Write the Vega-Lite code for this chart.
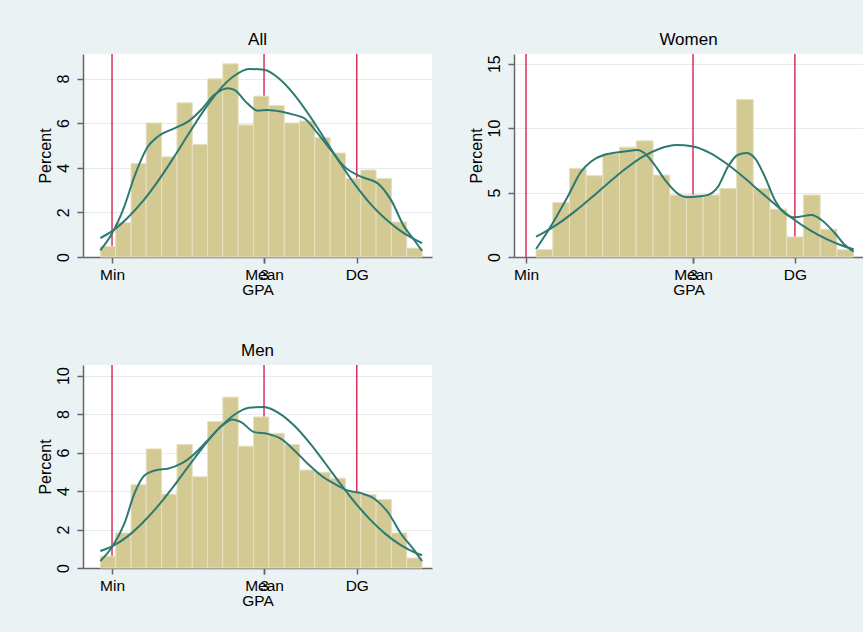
{
  "$schema": "https://vega.github.io/schema/vega-lite/v6.json",
  "background": "#eaf2f3",
  "padding": {"left": 37, "top": 31, "right": 0, "bottom": 26},
  "config": {
    "font": "Liberation Sans",
    "view": {"fill": "white", "stroke": null},
    "axis": {
      "domainColor": "#666666",
      "domainWidth": 1.5,
      "tickColor": "#666666",
      "tickWidth": 1.5,
      "tickSize": 6,
      "labelColor": "#000000",
      "titleColor": "#000000",
      "labelFont": "Liberation Sans",
      "titleFont": "Liberation Sans",
      "labelFontSize": 15.5,
      "titleFontSize": 15.5,
      "titleFontWeight": "normal",
      "gridColor": "#e3ebf0",
      "gridWidth": 1.2
    },
    "title": {"font": "Liberation Sans", "fontSize": 17, "fontWeight": "normal", "color": "#000000", "offset": 4, "frame": "group", "anchor": "middle"}
  },
  "datasets": {
    "refs": [
      {"panel": "All", "gpa": 2.0, "label": "Min"},
      {"panel": "All", "gpa": 3.0, "label": "Mean"},
      {"panel": "All", "gpa": 3.61, "label": "DG"},
      {"panel": "Women", "gpa": 2.0, "label": "Min"},
      {"panel": "Women", "gpa": 3.0, "label": "Mean"},
      {"panel": "Women", "gpa": 3.61, "label": "DG"},
      {"panel": "Men", "gpa": 2.0, "label": "Min"},
      {"panel": "Men", "gpa": 3.0, "label": "Mean"},
      {"panel": "Men", "gpa": 3.61, "label": "DG"}
    ],
    "bars": [
      {"panel": "All", "x0": 1.923, "x1": 2.024, "pct": 0.48},
      {"panel": "All", "x0": 2.024, "x1": 2.125, "pct": 1.54},
      {"panel": "All", "x0": 2.125, "x1": 2.225, "pct": 4.19},
      {"panel": "All", "x0": 2.225, "x1": 2.326, "pct": 6.01},
      {"panel": "All", "x0": 2.326, "x1": 2.427, "pct": 4.49},
      {"panel": "All", "x0": 2.427, "x1": 2.528, "pct": 6.91},
      {"panel": "All", "x0": 2.528, "x1": 2.629, "pct": 5.05},
      {"panel": "All", "x0": 2.629, "x1": 2.729, "pct": 7.99},
      {"panel": "All", "x0": 2.729, "x1": 2.830, "pct": 8.66},
      {"panel": "All", "x0": 2.830, "x1": 2.931, "pct": 5.92},
      {"panel": "All", "x0": 2.931, "x1": 3.032, "pct": 7.21},
      {"panel": "All", "x0": 3.032, "x1": 3.133, "pct": 6.79},
      {"panel": "All", "x0": 3.133, "x1": 3.233, "pct": 6.01},
      {"panel": "All", "x0": 3.233, "x1": 3.334, "pct": 6.10},
      {"panel": "All", "x0": 3.334, "x1": 3.435, "pct": 5.35},
      {"panel": "All", "x0": 3.435, "x1": 3.536, "pct": 4.66},
      {"panel": "All", "x0": 3.536, "x1": 3.637, "pct": 3.52},
      {"panel": "All", "x0": 3.637, "x1": 3.737, "pct": 3.90},
      {"panel": "All", "x0": 3.737, "x1": 3.838, "pct": 3.52},
      {"panel": "All", "x0": 3.838, "x1": 3.939, "pct": 1.57},
      {"panel": "All", "x0": 3.939, "x1": 4.040, "pct": 0.40},
      {"panel": "Women", "x0": 2.060, "x1": 2.160, "pct": 0.57},
      {"panel": "Women", "x0": 2.160, "x1": 2.260, "pct": 4.23},
      {"panel": "Women", "x0": 2.260, "x1": 2.360, "pct": 6.88},
      {"panel": "Women", "x0": 2.360, "x1": 2.460, "pct": 6.31},
      {"panel": "Women", "x0": 2.460, "x1": 2.560, "pct": 8.00},
      {"panel": "Women", "x0": 2.560, "x1": 2.660, "pct": 8.52},
      {"panel": "Women", "x0": 2.660, "x1": 2.761, "pct": 9.01},
      {"panel": "Women", "x0": 2.761, "x1": 2.861, "pct": 6.36},
      {"panel": "Women", "x0": 2.861, "x1": 2.961, "pct": 4.81},
      {"panel": "Women", "x0": 2.961, "x1": 3.061, "pct": 4.81},
      {"panel": "Women", "x0": 3.061, "x1": 3.161, "pct": 4.81},
      {"panel": "Women", "x0": 3.161, "x1": 3.261, "pct": 5.32},
      {"panel": "Women", "x0": 3.261, "x1": 3.361, "pct": 12.21},
      {"panel": "Women", "x0": 3.361, "x1": 3.461, "pct": 5.32},
      {"panel": "Women", "x0": 3.461, "x1": 3.561, "pct": 3.71},
      {"panel": "Women", "x0": 3.561, "x1": 3.661, "pct": 1.56},
      {"panel": "Women", "x0": 3.661, "x1": 3.762, "pct": 4.81},
      {"panel": "Women", "x0": 3.762, "x1": 3.862, "pct": 2.16},
      {"panel": "Women", "x0": 3.862, "x1": 3.962, "pct": 0.57},
      {"panel": "Men", "x0": 1.923, "x1": 2.024, "pct": 0.62},
      {"panel": "Men", "x0": 2.024, "x1": 2.125, "pct": 1.82},
      {"panel": "Men", "x0": 2.125, "x1": 2.225, "pct": 4.33},
      {"panel": "Men", "x0": 2.225, "x1": 2.326, "pct": 6.19},
      {"panel": "Men", "x0": 2.326, "x1": 2.427, "pct": 3.84},
      {"panel": "Men", "x0": 2.427, "x1": 2.528, "pct": 6.42},
      {"panel": "Men", "x0": 2.528, "x1": 2.629, "pct": 4.74},
      {"panel": "Men", "x0": 2.629, "x1": 2.729, "pct": 7.61},
      {"panel": "Men", "x0": 2.729, "x1": 2.830, "pct": 8.88},
      {"panel": "Men", "x0": 2.830, "x1": 2.931, "pct": 6.33},
      {"panel": "Men", "x0": 2.931, "x1": 3.032, "pct": 7.85},
      {"panel": "Men", "x0": 3.032, "x1": 3.133, "pct": 7.00},
      {"panel": "Men", "x0": 3.133, "x1": 3.233, "pct": 6.42},
      {"panel": "Men", "x0": 3.233, "x1": 3.334, "pct": 5.09},
      {"panel": "Men", "x0": 3.334, "x1": 3.435, "pct": 4.98},
      {"panel": "Men", "x0": 3.435, "x1": 3.536, "pct": 4.67},
      {"panel": "Men", "x0": 3.536, "x1": 3.637, "pct": 3.94},
      {"panel": "Men", "x0": 3.637, "x1": 3.737, "pct": 3.82},
      {"panel": "Men", "x0": 3.737, "x1": 3.838, "pct": 3.56},
      {"panel": "Men", "x0": 3.838, "x1": 3.939, "pct": 1.82},
      {"panel": "Men", "x0": 3.939, "x1": 4.040, "pct": 0.52}
    ],
    "curves": [
      {"panel": "All", "curve": "kde", "gpa": 1.923, "pct": 0.30},
      {"panel": "All", "curve": "kde", "gpa": 2.0, "pct": 1.05},
      {"panel": "All", "curve": "kde", "gpa": 2.08, "pct": 2.25},
      {"panel": "All", "curve": "kde", "gpa": 2.147, "pct": 3.6},
      {"panel": "All", "curve": "kde", "gpa": 2.235, "pct": 4.94},
      {"panel": "All", "curve": "kde", "gpa": 2.30, "pct": 5.39},
      {"panel": "All", "curve": "kde", "gpa": 2.41, "pct": 5.77},
      {"panel": "All", "curve": "kde", "gpa": 2.50, "pct": 6.07},
      {"panel": "All", "curve": "kde", "gpa": 2.585, "pct": 6.59},
      {"panel": "All", "curve": "kde", "gpa": 2.673, "pct": 7.27},
      {"panel": "All", "curve": "kde", "gpa": 2.76, "pct": 7.57},
      {"panel": "All", "curve": "kde", "gpa": 2.805, "pct": 7.49},
      {"panel": "All", "curve": "kde", "gpa": 2.89, "pct": 6.89},
      {"panel": "All", "curve": "kde", "gpa": 2.958, "pct": 6.56},
      {"panel": "All", "curve": "kde", "gpa": 3.024, "pct": 6.59},
      {"panel": "All", "curve": "kde", "gpa": 3.11, "pct": 6.52},
      {"panel": "All", "curve": "kde", "gpa": 3.2, "pct": 6.37},
      {"panel": "All", "curve": "kde", "gpa": 3.265, "pct": 6.22},
      {"panel": "All", "curve": "kde", "gpa": 3.353, "pct": 5.54},
      {"panel": "All", "curve": "kde", "gpa": 3.44, "pct": 4.79},
      {"panel": "All", "curve": "kde", "gpa": 3.53, "pct": 4.04},
      {"panel": "All", "curve": "kde", "gpa": 3.638, "pct": 3.6},
      {"panel": "All", "curve": "kde", "gpa": 3.748, "pct": 3.30},
      {"panel": "All", "curve": "kde", "gpa": 3.836, "pct": 2.55},
      {"panel": "All", "curve": "kde", "gpa": 3.923, "pct": 1.35},
      {"panel": "All", "curve": "kde", "gpa": 3.989, "pct": 0.75},
      {"panel": "All", "curve": "kde", "gpa": 4.04, "pct": 0.27},
      {"panel": "All", "curve": "normal", "gpa": 1.923, "pct": 0.85},
      {"panel": "All", "curve": "normal", "gpa": 2.0, "pct": 1.16},
      {"panel": "All", "curve": "normal", "gpa": 2.1, "pct": 1.74},
      {"panel": "All", "curve": "normal", "gpa": 2.2, "pct": 2.48},
      {"panel": "All", "curve": "normal", "gpa": 2.3, "pct": 3.38},
      {"panel": "All", "curve": "normal", "gpa": 2.4, "pct": 4.40},
      {"panel": "All", "curve": "normal", "gpa": 2.5, "pct": 5.48},
      {"panel": "All", "curve": "normal", "gpa": 2.6, "pct": 6.53},
      {"panel": "All", "curve": "normal", "gpa": 2.7, "pct": 7.44},
      {"panel": "All", "curve": "normal", "gpa": 2.8, "pct": 8.10},
      {"panel": "All", "curve": "normal", "gpa": 2.9, "pct": 8.43},
      {"panel": "All", "curve": "normal", "gpa": 3.0, "pct": 8.39},
      {"panel": "All", "curve": "normal", "gpa": 3.1, "pct": 7.99},
      {"panel": "All", "curve": "normal", "gpa": 3.2, "pct": 7.27},
      {"panel": "All", "curve": "normal", "gpa": 3.3, "pct": 6.33},
      {"panel": "All", "curve": "normal", "gpa": 3.4, "pct": 5.28},
      {"panel": "All", "curve": "normal", "gpa": 3.5, "pct": 4.22},
      {"panel": "All", "curve": "normal", "gpa": 3.6, "pct": 3.23},
      {"panel": "All", "curve": "normal", "gpa": 3.7, "pct": 2.38},
      {"panel": "All", "curve": "normal", "gpa": 3.8, "pct": 1.70},
      {"panel": "All", "curve": "normal", "gpa": 3.9, "pct": 1.16},
      {"panel": "All", "curve": "normal", "gpa": 4.0, "pct": 0.76},
      {"panel": "All", "curve": "normal", "gpa": 4.04, "pct": 0.62},
      {"panel": "Women", "curve": "kde", "gpa": 2.06, "pct": 0.62},
      {"panel": "Women", "curve": "kde", "gpa": 2.147, "pct": 2.35},
      {"panel": "Women", "curve": "kde", "gpa": 2.25, "pct": 4.69},
      {"panel": "Women", "curve": "kde", "gpa": 2.33, "pct": 6.63},
      {"panel": "Women", "curve": "kde", "gpa": 2.39, "pct": 7.41},
      {"panel": "Women", "curve": "kde", "gpa": 2.47, "pct": 7.93},
      {"panel": "Women", "curve": "kde", "gpa": 2.59, "pct": 8.18},
      {"panel": "Women", "curve": "kde", "gpa": 2.67, "pct": 8.31},
      {"panel": "Women", "curve": "kde", "gpa": 2.71, "pct": 8.05},
      {"panel": "Women", "curve": "kde", "gpa": 2.77, "pct": 7.15},
      {"panel": "Women", "curve": "kde", "gpa": 2.84, "pct": 5.85},
      {"panel": "Women", "curve": "kde", "gpa": 2.92, "pct": 4.82},
      {"panel": "Women", "curve": "kde", "gpa": 2.965, "pct": 4.64},
      {"panel": "Women", "curve": "kde", "gpa": 3.03, "pct": 4.70},
      {"panel": "Women", "curve": "kde", "gpa": 3.09, "pct": 4.82},
      {"panel": "Women", "curve": "kde", "gpa": 3.15, "pct": 5.46},
      {"panel": "Women", "curve": "kde", "gpa": 3.21, "pct": 7.02},
      {"panel": "Women", "curve": "kde", "gpa": 3.27, "pct": 7.93},
      {"panel": "Women", "curve": "kde", "gpa": 3.32, "pct": 8.06},
      {"panel": "Women", "curve": "kde", "gpa": 3.37, "pct": 7.67},
      {"panel": "Women", "curve": "kde", "gpa": 3.43, "pct": 6.24},
      {"panel": "Women", "curve": "kde", "gpa": 3.49, "pct": 4.43},
      {"panel": "Women", "curve": "kde", "gpa": 3.55, "pct": 3.40},
      {"panel": "Women", "curve": "kde", "gpa": 3.61, "pct": 3.08},
      {"panel": "Women", "curve": "kde", "gpa": 3.71, "pct": 3.26},
      {"panel": "Women", "curve": "kde", "gpa": 3.77, "pct": 2.87},
      {"panel": "Women", "curve": "kde", "gpa": 3.85, "pct": 1.84},
      {"panel": "Women", "curve": "kde", "gpa": 3.91, "pct": 0.93},
      {"panel": "Women", "curve": "kde", "gpa": 3.962, "pct": 0.41},
      {"panel": "Women", "curve": "normal", "gpa": 2.06, "pct": 1.58},
      {"panel": "Women", "curve": "normal", "gpa": 2.1, "pct": 1.85},
      {"panel": "Women", "curve": "normal", "gpa": 2.2, "pct": 2.65},
      {"panel": "Women", "curve": "normal", "gpa": 2.3, "pct": 3.62},
      {"panel": "Women", "curve": "normal", "gpa": 2.4, "pct": 4.70},
      {"panel": "Women", "curve": "normal", "gpa": 2.5, "pct": 5.82},
      {"panel": "Women", "curve": "normal", "gpa": 2.6, "pct": 6.88},
      {"panel": "Women", "curve": "normal", "gpa": 2.7, "pct": 7.78},
      {"panel": "Women", "curve": "normal", "gpa": 2.8, "pct": 8.40},
      {"panel": "Women", "curve": "normal", "gpa": 2.9, "pct": 8.68},
      {"panel": "Women", "curve": "normal", "gpa": 3.0, "pct": 8.57},
      {"panel": "Women", "curve": "normal", "gpa": 3.1, "pct": 8.08},
      {"panel": "Women", "curve": "normal", "gpa": 3.2, "pct": 7.25},
      {"panel": "Women", "curve": "normal", "gpa": 3.3, "pct": 6.22},
      {"panel": "Women", "curve": "normal", "gpa": 3.4, "pct": 5.10},
      {"panel": "Women", "curve": "normal", "gpa": 3.5, "pct": 3.98},
      {"panel": "Women", "curve": "normal", "gpa": 3.6, "pct": 2.95},
      {"panel": "Women", "curve": "normal", "gpa": 3.7, "pct": 2.08},
      {"panel": "Women", "curve": "normal", "gpa": 3.8, "pct": 1.38},
      {"panel": "Women", "curve": "normal", "gpa": 3.9, "pct": 0.85},
      {"panel": "Women", "curve": "normal", "gpa": 3.962, "pct": 0.60},
      {"panel": "Men", "curve": "kde", "gpa": 1.923, "pct": 0.36},
      {"panel": "Men", "curve": "kde", "gpa": 2.0, "pct": 1.09},
      {"panel": "Men", "curve": "kde", "gpa": 2.081, "pct": 2.30},
      {"panel": "Men", "curve": "kde", "gpa": 2.147, "pct": 3.86},
      {"panel": "Men", "curve": "kde", "gpa": 2.213, "pct": 4.81},
      {"panel": "Men", "curve": "kde", "gpa": 2.30, "pct": 5.10},
      {"panel": "Men", "curve": "kde", "gpa": 2.366, "pct": 5.16},
      {"panel": "Men", "curve": "kde", "gpa": 2.454, "pct": 5.42},
      {"panel": "Men", "curve": "kde", "gpa": 2.542, "pct": 5.93},
      {"panel": "Men", "curve": "kde", "gpa": 2.629, "pct": 6.63},
      {"panel": "Men", "curve": "kde", "gpa": 2.717, "pct": 7.35},
      {"panel": "Men", "curve": "kde", "gpa": 2.794, "pct": 7.72},
      {"panel": "Men", "curve": "kde", "gpa": 2.849, "pct": 7.58},
      {"panel": "Men", "curve": "kde", "gpa": 2.936, "pct": 7.06},
      {"panel": "Men", "curve": "kde", "gpa": 3.024, "pct": 6.97},
      {"panel": "Men", "curve": "kde", "gpa": 3.112, "pct": 6.71},
      {"panel": "Men", "curve": "kde", "gpa": 3.20, "pct": 6.11},
      {"panel": "Men", "curve": "kde", "gpa": 3.287, "pct": 5.42},
      {"panel": "Men", "curve": "kde", "gpa": 3.375, "pct": 4.81},
      {"panel": "Men", "curve": "kde", "gpa": 3.463, "pct": 4.38},
      {"panel": "Men", "curve": "kde", "gpa": 3.55, "pct": 4.03},
      {"panel": "Men", "curve": "kde", "gpa": 3.638, "pct": 3.89},
      {"panel": "Men", "curve": "kde", "gpa": 3.726, "pct": 3.60},
      {"panel": "Men", "curve": "kde", "gpa": 3.814, "pct": 2.91},
      {"panel": "Men", "curve": "kde", "gpa": 3.901, "pct": 1.78},
      {"panel": "Men", "curve": "kde", "gpa": 3.989, "pct": 0.92},
      {"panel": "Men", "curve": "kde", "gpa": 4.039, "pct": 0.36},
      {"panel": "Men", "curve": "normal", "gpa": 1.923, "pct": 0.88},
      {"panel": "Men", "curve": "normal", "gpa": 2.0, "pct": 1.12},
      {"panel": "Men", "curve": "normal", "gpa": 2.1, "pct": 1.63},
      {"panel": "Men", "curve": "normal", "gpa": 2.2, "pct": 2.34},
      {"panel": "Men", "curve": "normal", "gpa": 2.3, "pct": 3.20},
      {"panel": "Men", "curve": "normal", "gpa": 2.4, "pct": 4.19},
      {"panel": "Men", "curve": "normal", "gpa": 2.5, "pct": 5.26},
      {"panel": "Men", "curve": "normal", "gpa": 2.6, "pct": 6.30},
      {"panel": "Men", "curve": "normal", "gpa": 2.7, "pct": 7.23},
      {"panel": "Men", "curve": "normal", "gpa": 2.8, "pct": 7.94},
      {"panel": "Men", "curve": "normal", "gpa": 2.9, "pct": 8.33},
      {"panel": "Men", "curve": "normal", "gpa": 3.0, "pct": 8.37},
      {"panel": "Men", "curve": "normal", "gpa": 3.1, "pct": 8.04},
      {"panel": "Men", "curve": "normal", "gpa": 3.2, "pct": 7.39},
      {"panel": "Men", "curve": "normal", "gpa": 3.3, "pct": 6.50},
      {"panel": "Men", "curve": "normal", "gpa": 3.4, "pct": 5.47},
      {"panel": "Men", "curve": "normal", "gpa": 3.5, "pct": 4.40},
      {"panel": "Men", "curve": "normal", "gpa": 3.6, "pct": 3.39},
      {"panel": "Men", "curve": "normal", "gpa": 3.7, "pct": 2.50},
      {"panel": "Men", "curve": "normal", "gpa": 3.8, "pct": 1.76},
      {"panel": "Men", "curve": "normal", "gpa": 3.9, "pct": 1.19},
      {"panel": "Men", "curve": "normal", "gpa": 4.0, "pct": 0.78},
      {"panel": "Men", "curve": "normal", "gpa": 4.04, "pct": 0.66}
    ]
  },
  "columns": 2,
  "spacing": {"row": 108, "column": 82},
  "bounds": "flush",
  "concat": [
    {
      "width": 349, "height": 203,
      "title": {"text": "All"},
      "layer": [
        {
          "data": {"name": "refs"},
          "transform": [{"filter": "datum.panel == 'All'"}],
          "mark": {"type": "rule", "color": "#d7325a", "strokeWidth": 1.5},
          "encoding": {
            "x": {"field": "gpa", "type": "quantitative",
              "scale": {"domain": [1.809, 4.105], "nice": false, "zero": false},
              "axis": {"title": "GPA", "values": [2, 3, 3.0001, 3.61], "labelExpr": "datum.value == 2 ? 'Min' : datum.value == 3 ? '3' : datum.value < 3.5 ? 'Mean' : 'DG'", "labelOverlap": false, "labelFlush": false, "grid": false, "labelPadding": 4, "titlePadding": 0}}
          }
        },
        {
          "data": {"name": "bars"},
          "transform": [{"filter": "datum.panel == 'All'"}],
          "mark": {"type": "rect", "fill": "#d3c993", "stroke": "#e6e1c3", "strokeWidth": 1},
          "encoding": {
            "x": {"field": "x0", "type": "quantitative"},
            "x2": {"field": "x1"},
            "y": {"field": "pct", "type": "quantitative",
              "scale": {"domain": [0, 9.1], "nice": false},
              "axis": {"title": "Percent", "values": [0, 2, 4, 6, 8], "labelAngle": -90, "labelAlign": "center", "labelBaseline": "bottom", "labelFontSize": 16, "titleFontSize": 16, "grid": true, "labelPadding": 6, "titlePadding": 2}},
            "y2": {"datum": 0}
          }
        },
        {
          "data": {"name": "curves"},
          "transform": [{"filter": "datum.panel == 'All'"}],
          "mark": {"type": "line", "color": "#2d7a72", "strokeWidth": 2, "interpolate": "monotone"},
          "encoding": {
            "x": {"field": "gpa", "type": "quantitative"},
            "y": {"field": "pct", "type": "quantitative"},
            "detail": {"field": "curve"}
          }
        }
      ]
    },
    {
      "width": 349, "height": 203,
      "title": {"text": "Women"},
      "layer": [
        {
          "data": {"name": "refs"},
          "transform": [{"filter": "datum.panel == 'Women'"}],
          "mark": {"type": "rule", "color": "#d7325a", "strokeWidth": 1.5},
          "encoding": {
            "x": {"field": "gpa", "type": "quantitative",
              "scale": {"domain": [1.928, 4.018], "nice": false, "zero": false},
              "axis": {"title": "GPA", "values": [2, 3, 3.0001, 3.61], "labelExpr": "datum.value == 2 ? 'Min' : datum.value == 3 ? '3' : datum.value < 3.5 ? 'Mean' : 'DG'", "labelOverlap": false, "labelFlush": false, "grid": false, "labelPadding": 4, "titlePadding": 0}}
          }
        },
        {
          "data": {"name": "bars"},
          "transform": [{"filter": "datum.panel == 'Women'"}],
          "mark": {"type": "rect", "fill": "#d3c993", "stroke": "#e6e1c3", "strokeWidth": 1},
          "encoding": {
            "x": {"field": "x0", "type": "quantitative"},
            "x2": {"field": "x1"},
            "y": {"field": "pct", "type": "quantitative",
              "scale": {"domain": [0, 15.75], "nice": false},
              "axis": {"title": "Percent", "values": [0, 5, 10, 15], "labelAngle": -90, "labelAlign": "center", "labelBaseline": "bottom", "labelFontSize": 16, "titleFontSize": 16, "grid": true, "labelPadding": 6, "titlePadding": 2}},
            "y2": {"datum": 0}
          }
        },
        {
          "data": {"name": "curves"},
          "transform": [{"filter": "datum.panel == 'Women'"}],
          "mark": {"type": "line", "color": "#2d7a72", "strokeWidth": 2, "interpolate": "monotone"},
          "encoding": {
            "x": {"field": "gpa", "type": "quantitative"},
            "y": {"field": "pct", "type": "quantitative"},
            "detail": {"field": "curve"}
          }
        }
      ]
    },
    {
      "width": 349, "height": 203,
      "title": {"text": "Men"},
      "layer": [
        {
          "data": {"name": "refs"},
          "transform": [{"filter": "datum.panel == 'Men'"}],
          "mark": {"type": "rule", "color": "#d7325a", "strokeWidth": 1.5},
          "encoding": {
            "x": {"field": "gpa", "type": "quantitative",
              "scale": {"domain": [1.809, 4.105], "nice": false, "zero": false},
              "axis": {"title": "GPA", "values": [2, 3, 3.0001, 3.61], "labelExpr": "datum.value == 2 ? 'Min' : datum.value == 3 ? '3' : datum.value < 3.5 ? 'Mean' : 'DG'", "labelOverlap": false, "labelFlush": false, "grid": false, "labelPadding": 4, "titlePadding": 0}}
          }
        },
        {
          "data": {"name": "bars"},
          "transform": [{"filter": "datum.panel == 'Men'"}],
          "mark": {"type": "rect", "fill": "#d3c993", "stroke": "#e6e1c3", "strokeWidth": 1},
          "encoding": {
            "x": {"field": "x0", "type": "quantitative"},
            "x2": {"field": "x1"},
            "y": {"field": "pct", "type": "quantitative",
              "scale": {"domain": [0, 10.55], "nice": false},
              "axis": {"title": "Percent", "values": [0, 2, 4, 6, 8, 10], "labelAngle": -90, "labelAlign": "center", "labelBaseline": "bottom", "labelFontSize": 16, "titleFontSize": 16, "grid": true, "labelPadding": 6, "titlePadding": 2}},
            "y2": {"datum": 0}
          }
        },
        {
          "data": {"name": "curves"},
          "transform": [{"filter": "datum.panel == 'Men'"}],
          "mark": {"type": "line", "color": "#2d7a72", "strokeWidth": 2, "interpolate": "monotone"},
          "encoding": {
            "x": {"field": "gpa", "type": "quantitative"},
            "y": {"field": "pct", "type": "quantitative"},
            "detail": {"field": "curve"}
          }
        }
      ]
    }
  ]
}
